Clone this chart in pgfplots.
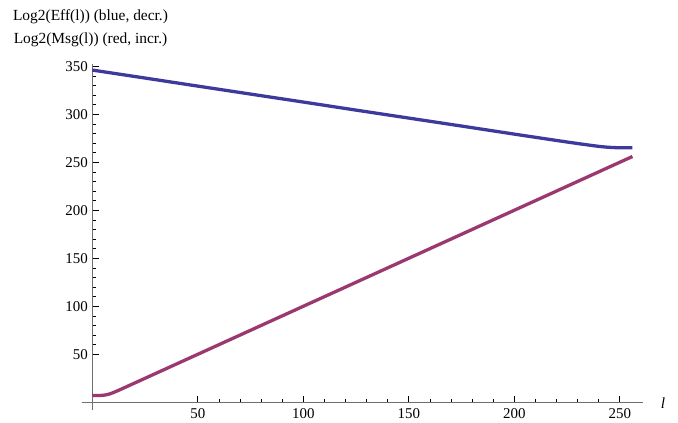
\documentclass[border=0pt]{standalone}
\usepackage{fontspec}
\setmainfont{Liberation Serif}
\usepackage{pgfplots}
\pgfplotsset{compat=1.18}
\definecolor{effblue}{RGB}{62,58,156}
\definecolor{msgred}{RGB}{155,56,112}
\definecolor{axgray}{RGB}{110,110,110}
\begin{document}
\begin{tikzpicture}
\path[use as bounding box] (0,0) rectangle (678bp,-423bp);
\begin{axis}[
  at={(81.7bp,-410bp)}, anchor=south west,
  scale only axis, width=561.3bp, height=345.7bp,
  axis lines=middle,
  xmin=-5, xmax=261, ymin=-8, ymax=352,
  xtick={50,100,150,200,250},
  ytick={50,100,150,200,250,300,350},
  minor x tick num=4, minor y tick num=4,
  major tick length=6.5bp, minor tick length=3.5bp,
  tick align=inside,
  axis line style={axgray, line width=0.7pt, -},
  every tick/.style={black, line width=0.6pt},
  /pgf/number format/assume math mode=true,
  tick label style={font=\fontsize{15}{17}\selectfont},
  xticklabel style={yshift=-3bp},
  yticklabel style={xshift=-1bp},
  xlabel={\textit{l}},
  xlabel style={at={(rel axis cs:1,0)}, anchor=center, xshift=20bp, yshift=7bp, font=\fontsize{15.5}{17}\selectfont},
  ylabel={Log2(Eff(l)) (blue, decr.)\\Log2(Msg(l)) (red, incr.)},
  ylabel style={at={(rel axis cs:0.0157,1.1036)}, anchor=center, rotate=0, align=center, font=\fontsize{15.5}{23}\selectfont},
  clip=false,
]
\addplot[effblue, line width=3.3pt, line join=round] coordinates {
(0,346) (25,337.7) (50,329.3) (75,321) (100,312.7) (125,304.3) (150,296)
(175,287.7) (200,279.3) (210,276) (220,272.7) (225,271.1) (230,269.5)
(235,268.0) (238,267.1) (241,266.3) (244,265.7) (247,265.3) (250,265.1) (253,265.0) (256,265.0)
};
\addplot[msgred, line width=3.3pt, line join=round] coordinates {
(0,7.01) (2,7.04) (4,7.17) (6,7.58) (7,8.0) (8,8.58) (9,9.32) (10,10.17) (11,11.09) (12,12.04) (14,14.01) (16,16.0) (20,20) (256,256)
};
\end{axis}
\end{tikzpicture}
\end{document}
